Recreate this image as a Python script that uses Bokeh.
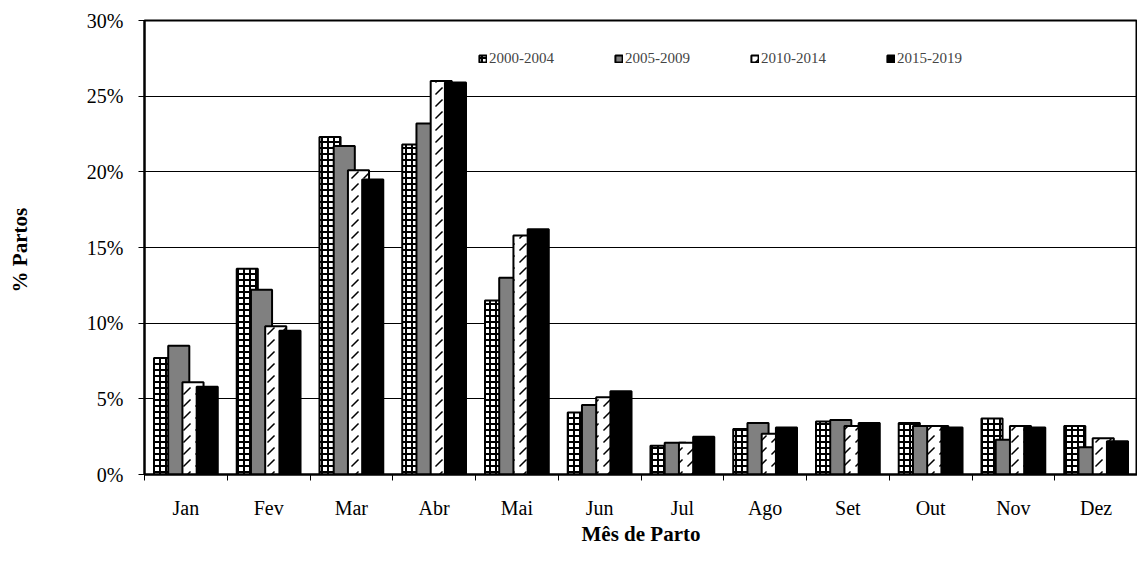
from bokeh.plotting import figure
from bokeh.models import (FixedTicker, Range1d, Legend, LegendItem, PrintfTickFormatter)
from bokeh.embed import file_html
from bokeh.resources import INLINE

months = ["Jan", "Fev", "Mar", "Abr", "Mai", "Jun", "Jul", "Ago", "Set", "Out", "Nov", "Dez"]
series_names = ["2000-2004", "2005-2009", "2010-2014", "2015-2019"]
s_2000_2004 = [7.7, 13.6, 22.3, 21.8, 11.5, 4.1, 1.9, 3.0, 3.5, 3.4, 3.7, 3.2]
s_2005_2009 = [8.5, 12.2, 21.7, 23.2, 13.0, 4.6, 2.1, 3.4, 3.6, 3.2, 2.3, 1.8]
s_2010_2014 = [6.1, 9.8, 20.1, 26.0, 15.8, 5.1, 2.1, 2.7, 3.2, 3.2, 3.2, 2.4]
s_2015_2019 = [5.8, 9.5, 19.5, 25.9, 16.2, 5.5, 2.5, 3.1, 3.4, 3.1, 3.1, 2.2]
y_ticks = [0, 5, 10, 15, 20, 25, 30]

FONT = "Liberation Serif"

p = figure(width=1137, height=562, output_backend="svg", toolbar_location=None,
           x_range=Range1d(0, 12), y_range=Range1d(0, 30),
           min_border_left=144, min_border_right=0, min_border_top=20, min_border_bottom=88)
p.background_fill_color = "white"
p.border_fill_color = "white"
p.outline_line_color = "black"
p.outline_line_width = 2

series = [s_2000_2004, s_2005_2009, s_2010_2014, s_2015_2019]
styles = [
    dict(fill_color="white", hatch_pattern="cross", hatch_color="black", hatch_scale=6, hatch_weight=2),
    dict(fill_color="#808080"),
    dict(fill_color="white", hatch_pattern="right_diagonal_dash", hatch_color="black",
         hatch_scale=12, hatch_weight=1.5),
    dict(fill_color="black"),
]
step = 0.172
bar_w = 0.255
items = []
for i, (vals, st) in enumerate(zip(series, styles)):
    off = (i - 1.5) * step
    xs = [k + 0.5 + off for k in range(len(months))]
    r = p.vbar(x=xs, top=vals, width=bar_w, line_color="black", line_width=2, **st)
    items.append(LegendItem(label=series_names[i], renderers=[r]))

legend = Legend(items=items, orientation="horizontal", location=(334, 407),
                border_line_color=None, background_fill_alpha=0,
                glyph_width=9, glyph_height=9, label_standoff=2, spacing=60,
                padding=0, margin=0,
                label_text_font=FONT, label_text_font_size="15px")
p.add_layout(legend)

# x axis
p.xaxis.ticker = FixedTicker(ticks=[k + 0.5 for k in range(len(months))],
                             minor_ticks=list(range(len(months) + 1)))
p.xaxis.major_label_overrides = {k + 0.5: m for k, m in enumerate(months)}
p.xaxis.major_tick_line_color = None
p.xaxis.major_tick_out = 0
p.xaxis.major_tick_in = 0
p.xaxis.minor_tick_line_color = "black"
p.xaxis.minor_tick_out = 6
p.xaxis.minor_tick_in = 0
p.xaxis.axis_line_width = 2
p.xaxis.axis_line_color = "black"
p.xaxis.major_label_standoff = 16
p.xaxis.major_label_text_font = FONT
p.xaxis.major_label_text_font_size = "20px"
p.xaxis.major_label_text_color = "black"
p.xaxis.axis_label = "Mês de Parto"
p.xaxis.axis_label_text_font = FONT
p.xaxis.axis_label_text_font_size = "21px"
p.xaxis.axis_label_text_font_style = "bold"
p.xaxis.axis_label_text_color = "black"
p.xaxis.axis_label_standoff = 0

# y axis
p.yaxis.ticker = FixedTicker(ticks=y_ticks)
p.yaxis.formatter = PrintfTickFormatter(format="%d%%")
p.yaxis.major_tick_line_color = "black"
p.yaxis.major_tick_out = 6
p.yaxis.major_tick_in = 0
p.yaxis.minor_tick_line_color = None
p.yaxis.axis_line_width = 2
p.yaxis.axis_line_color = "black"
p.yaxis.major_label_standoff = 15
p.yaxis.major_label_text_font = FONT
p.yaxis.major_label_text_font_size = "20px"
p.yaxis.major_label_text_color = "black"
p.yaxis.axis_label = "%  Partos"
p.yaxis.axis_label_text_font = FONT
p.yaxis.axis_label_text_font_size = "21px"
p.yaxis.axis_label_text_font_style = "bold"
p.yaxis.axis_label_text_color = "black"
p.yaxis.axis_label_standoff = 52

p.xgrid.grid_line_color = None
p.ygrid.grid_line_color = "black"
p.ygrid.grid_line_width = 1

open("out.html", "w").write(file_html(p, INLINE))
